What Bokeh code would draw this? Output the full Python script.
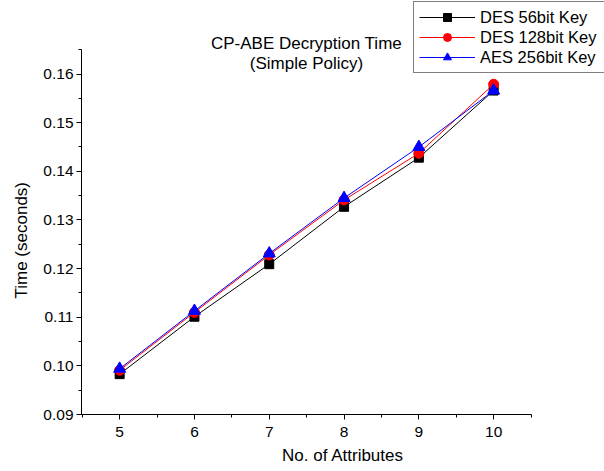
from bokeh.plotting import figure
from bokeh.models import FixedTicker, Legend, LegendItem, Label, Range1d, PrintfTickFormatter, Title
from bokeh.embed import file_html
from bokeh.resources import INLINE

attributes = [5, 6, 7, 8, 9, 10]
des56 = [0.0983, 0.1101, 0.1209, 0.1327, 0.1428, 0.1566]
des128 = [0.0991, 0.1110, 0.1228, 0.1341, 0.1437, 0.1579]
aes256 = [0.0994, 0.1113, 0.1231, 0.1345, 0.1450, 0.1566]
series_names = ["DES 56bit Key", "DES 128bit Key", "AES 256bit Key"]
x_ticks = [5, 6, 7, 8, 9, 10]
x_minor = [4.5, 5.5, 6.5, 7.5, 8.5, 9.5, 10.5]
y_ticks = [0.09, 0.10, 0.11, 0.12, 0.13, 0.14, 0.15, 0.16]
y_minor = [0.095, 0.105, 0.115, 0.125, 0.135, 0.145, 0.155, 0.165]
title_lines = ["CP-ABE Decryption Time", "(Simple Policy)"]
x_label = "No. of Attributes"
y_label = "Time (seconds)"

FONT = "Liberation Sans"

# frame spans the whole canvas right/top so legend and title are not clipped;
# the axis lines are limited with bounds
p = figure(width=604, height=471, output_backend="svg", toolbar_location=None,
           x_range=Range1d(4.49, 4.49 + 523 / 74.8),
           y_range=Range1d(0.09, 0.09 + 414 / 4864.0),
           min_border_left=81, min_border_right=0, min_border_top=0, min_border_bottom=57)
p.outline_line_color = None
p.xgrid.visible = False
p.ygrid.visible = False
p.background_fill_color = "white"
p.border_fill_color = "white"

p.xaxis.ticker = FixedTicker(ticks=x_ticks, minor_ticks=x_minor)
p.yaxis.ticker = FixedTicker(ticks=y_ticks, minor_ticks=y_minor)
p.yaxis.formatter = PrintfTickFormatter(format="%.2f")
p.xaxis.bounds = (4.49, 10.51)
p.yaxis.bounds = (0.09, 0.165)
for ax in (p.xaxis, p.yaxis):
    ax.axis_line_color = "black"
    ax.axis_line_width = 1
    ax.major_tick_line_color = "black"
    ax.minor_tick_line_color = "black"
    ax.major_tick_out = 5
    ax.major_tick_in = 0
    ax.minor_tick_out = 3
    ax.minor_tick_in = 0
    ax.major_label_text_font = FONT
    ax.major_label_text_font_size = "15.5px"
    ax.major_label_text_color = "black"
    ax.axis_label_text_font = FONT
    ax.axis_label_text_font_size = "17px"
    ax.axis_label_text_font_style = "normal"
    ax.axis_label_text_color = "black"
p.xaxis.axis_label = x_label
p.xaxis.major_label_standoff = 7
p.xaxis.axis_label_standoff = 6
p.yaxis.major_label_standoff = 3

# y label as a side title so it can be centred on the visible axis segment
ytitle = Title(text=y_label, align="left", offset=116, text_font=FONT,
               text_font_size="17px", text_font_style="normal", text_color="black",
               standoff=19)
p.add_layout(ytitle, "left")

l1 = p.line(attributes, des56, line_color="black", line_width=1)
m1 = p.scatter(attributes, des56, marker="square", size=9, fill_color="black", line_color="black")
l2 = p.line(attributes, des128, line_color="red", line_width=1)
m2 = p.scatter(attributes, des128, marker="circle", size=10, fill_color="red", line_color="red")
l3 = p.line(attributes, aes256, line_color="blue", line_width=1)
m3 = p.scatter(attributes, aes256, marker="triangle", size=12, fill_color="blue", line_color="blue")

legend = Legend(items=[LegendItem(label=series_names[0], renderers=[l1, m1]),
                       LegendItem(label=series_names[1], renderers=[l2, m2]),
                       LegendItem(label=series_names[2], renderers=[l3, m3])],
                location=(332, 341))
legend.border_line_color = "black"
legend.border_line_width = 1
legend.background_fill_color = "white"
legend.background_fill_alpha = 1
legend.label_text_font = FONT
legend.label_text_font_size = "16.5px"
legend.label_text_color = "black"
legend.glyph_width = 56
legend.glyph_height = 20
legend.label_height = 20
legend.label_width = 119
legend.spacing = 0
legend.padding = 5
legend.margin = 0
legend.label_standoff = 5
legend.label_text_baseline = "middle"
p.add_layout(legend, "center")

t1 = Label(x=225, y=414 - 43, x_units="screen", y_units="screen",
           text=title_lines[0], text_font=FONT, text_font_size="17px",
           text_align="center", text_baseline="middle", text_color="black")
t2 = Label(x=225, y=414 - 63, x_units="screen", y_units="screen",
           text=title_lines[1], text_font=FONT, text_font_size="17px",
           text_align="center", text_baseline="middle", text_color="black")
p.add_layout(t1)
p.add_layout(t2)

open("out.html", "w").write(file_html(p, INLINE))
